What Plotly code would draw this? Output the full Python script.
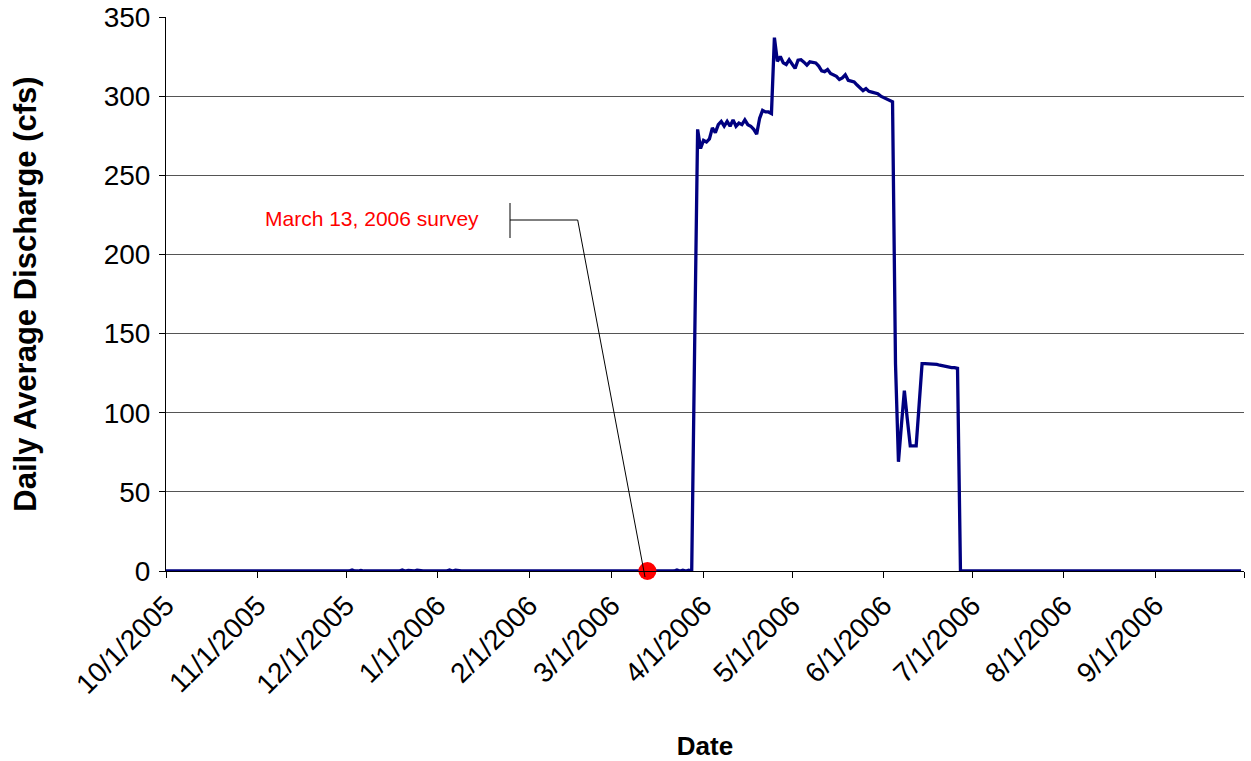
import pandas as pd
import plotly.graph_objects as go

# Daily average discharge (cfs), one list per month, water year 2006
oct05 = [0,0,0,0,0,0,0,0,0,0, 0,0,0,0,0,0,0,0,0,0, 0,0,0,0,0,0,0,0,0,0, 0]
nov05 = [0,0,0,0,0,0,0.5,0,0,0, 0,0,0,0,0,0.5,0,0,0,0, 0,0,0,0,0,0,0,0,0,0]
dec05 = [0,0,0.6,0,0,0.4,0,0,0,0, 0,0,0,0,0,0,0,0.5,0,0.6, 0,0.4,0,0,0.5,0,0,0,0,0, 0]
jan06 = [0,0.5,0,0,0.6,0,0.5,0,0,0, 0,0,0,0.5,0,0,0,0,0,0, 0,0,0,0,0.5,0,0,0,0,0, 0]
feb06 = [0,0,0,0,0.5,0,0,0,0,0, 0,0,0,0,0,0,0,0,0,0, 0,0,0,0,0,0,0,0]
mar06 = [0,0,0,0,0,0,0,0,0,0, 0,0,0,0,0,0,0,0,0,0.5, 0,0,0.6,0,0.5,0,0.5,0,143,279, 267]
apr06 = [272,271,273,280,277,282,284,281,284,281, 285,281,283,282,285,282,281,279,276,286,
         291,290,290,289,337,322,325,321,320,323]
may06 = [320,317.5,322.7,323,321.5,319.6,321.7,321.5,321,319, 316,315.5,316.8,314.3,313.5,312.5,310.5,311.5,313.5,310,
         309.5,309,307,305,303.5,304.8,303,302.5,302,301.5, 300]
jun06 = [299,298,297.5,296.5,131,69,92,114,96,79, 79,79,105,131,131,131,131,130.5,130.5,130,
         129.5,129,129,128.5,128.5,128,0,0,0,0]
jul06 = [0,0,0,0,0,0,0,0,0,0, 0,0,0,0,0,0,0,0,0.5,0, 0,0,0,0,0.5,0,0,0,0,0, 0]
aug06 = [0.5,0,0,0,0,0,0,0,0.5,0, 0,0,0,0,0,0.5,0,0,0,0, 0,0,0,0.5,0,0,0,0,0,0, 0]
sep06 = [0,0,0,0,0,0,0,0,0,0, 0,0,0,0,0,0,0,0,0,0, 0,0,0,0,0,0,0,0,0,0]

months = [oct05, nov05, dec05, jan06, feb06, mar06, apr06, may06, jun06, jul06, aug06, sep06]
discharge = [v for m in months for v in m]
dates = pd.date_range("2005-10-01", periods=len(discharge), freq="D")

survey_date = ["2006-03-13"]
survey_value = [0]

tick_dates = ["2005-10-01", "2005-11-01", "2005-12-01", "2006-01-01", "2006-02-01", "2006-03-01",
              "2006-04-01", "2006-05-01", "2006-06-01", "2006-07-01", "2006-08-01", "2006-09-01",
              "2006-10-01"]
tick_text = ["10/1/2005", "11/1/2005", "12/1/2005", "1/1/2006", "2/1/2006", "3/1/2006",
             "4/1/2006", "5/1/2006", "6/1/2006", "7/1/2006", "8/1/2006", "9/1/2006", ""]
y_ticks = [0, 50, 100, 150, 200, 250, 300, 350]

FONT = "Liberation Sans, Arial, sans-serif"

fig = go.Figure()
fig.add_trace(go.Scatter(x=dates, y=discharge, mode="lines",
                         line=dict(color="#000080", width=3.3), cliponaxis=False,
                         showlegend=False))
fig.add_trace(go.Scatter(x=survey_date, y=survey_value, mode="markers",
                         marker=dict(color="#ff0000", size=18), cliponaxis=False,
                         showlegend=False))

W, H = 1251, 761
PL, PT, PR, PB = 166, 17, 1244, 571   # plot-area edges in pixels
L, T, R, B = PL, PT, W - PR, H - PB
pw, ph = PR - PL, PB - PT

def px(x):
    return (x - PL) / pw

def py(y):
    return (PB - y) / ph

line_style = dict(color="black", width=1)
fig.add_shape(type="line", xref="paper", yref="paper", x0=px(510), x1=px(510), y0=py(203), y1=py(238), line=line_style)
fig.add_shape(type="line", xref="paper", yref="paper", x0=px(510), x1=px(577.7), y0=py(220), y1=py(220), line=line_style)
fig.add_shape(type="line", xref="paper", yref="paper", x0=px(577.7), x1=px(645), y0=py(220), y1=py(577), line=line_style)

fig.add_annotation(text="March 13, 2006 survey", xref="paper", yref="paper",
                   x=px(481), y=py(219), xanchor="right", yanchor="middle", showarrow=False,
                   font=dict(family=FONT, size=21, color="#ff0000"))

fig.update_layout(
    width=W, height=H,
    margin=dict(l=L, r=R, t=T, b=B, autoexpand=False),
    paper_bgcolor="white", plot_bgcolor="white",
    font=dict(family=FONT, color="black"),
    xaxis=dict(range=["2005-10-01", "2006-10-01"], tickmode="array", tickvals=tick_dates,
               ticktext=tick_text, tickangle=-45, tickfont=dict(size=28), automargin=False,
               ticks="outside", ticklen=6, tickcolor="black", showgrid=False,
               ticklabeloverflow="allow",
               showline=True, linecolor="black", linewidth=1, zeroline=False,
               title=dict(text="<b>Date</b>", font=dict(size=26), standoff=37)),
    yaxis=dict(range=[0, 350], tickmode="array", tickvals=y_ticks,
               ticktext=[str(v) for v in y_ticks], tickfont=dict(size=28), automargin=False,
               ticks="outside", ticklen=6, tickcolor="black", ticklabelstandoff=3,
               ticklabeloverflow="allow",
               showgrid=True, gridcolor="#555555", gridwidth=1,
               showline=True, linecolor="black", linewidth=1, zeroline=False,
               title=dict(text="<b>Daily Average Discharge (cfs)</b>", font=dict(size=31), standoff=57)),
)

# remove the default 8px page margin so the figure sits at the window's top-left corner
fig.write_html("out.html", config={"displayModeBar": False},
               post_script="document.body.style.margin='0';")
